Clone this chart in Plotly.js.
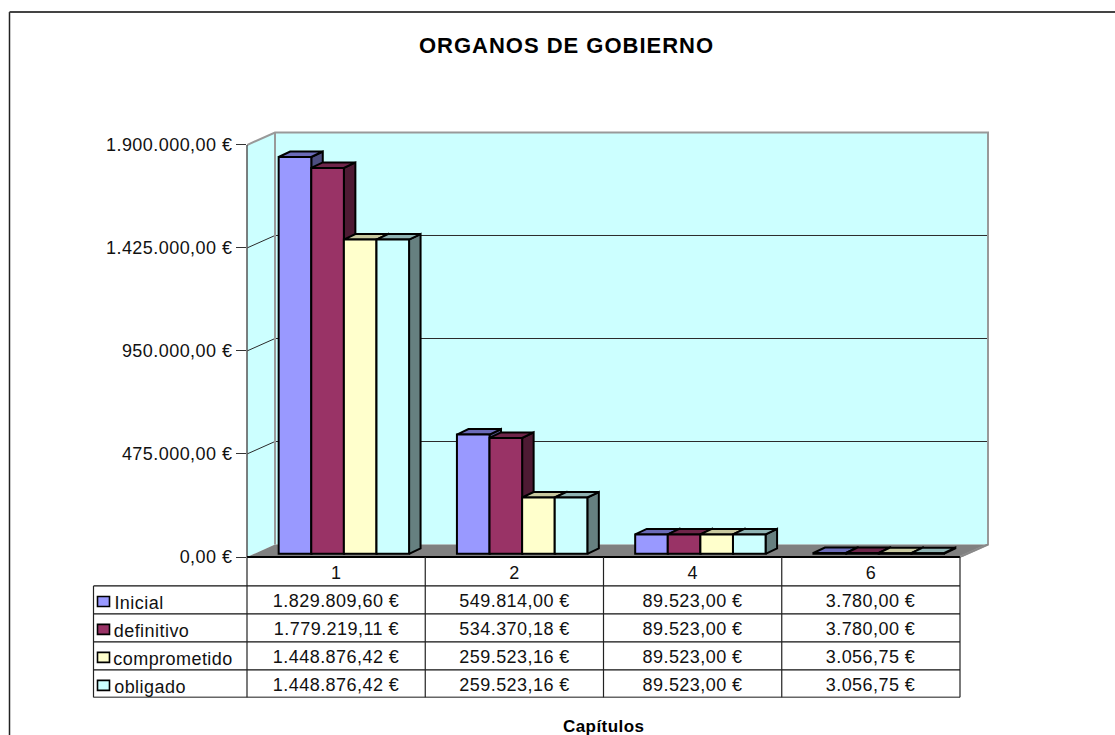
<!DOCTYPE html>
<html>
<head>
<meta charset="utf-8">
<script src="https://cdn.plot.ly/plotly-3.0.1.min.js"></script>
<style>
html,body{margin:0;padding:0;background:#fff;overflow:hidden}
#chart{width:1115px;height:735px}
.main-svg text{letter-spacing:0.45px}
.main-svg .gtitle{letter-spacing:1px}
.main-svg .axis-name text{letter-spacing:0.8px}
</style>
</head>
<body>
<div id="chart"></div>
<script>
var chartTitle = 'ORGANOS DE GOBIERNO';
var axisTitle = 'Capítulos';
var categories = ['1', '2', '4', '6'];
var seriesNames = ['Inicial', 'definitivo', 'comprometido', 'obligado'];
var inicial = [1829809.60, 549814.00, 89523.00, 3780.00];
var definitivo = [1779219.11, 534370.18, 89523.00, 3780.00];
var comprometido = [1448876.42, 259523.16, 89523.00, 3056.75];
var obligado = [1448876.42, 259523.16, 89523.00, 3056.75];
var seriesValues = [inicial, definitivo, comprometido, obligado];
var tickValues = [0, 475000, 950000, 1425000, 1900000];
var frontColors = ['#9999FF', '#993366', '#FFFFCC', '#CCFFFF'];
var sideColors = ['#4D4D80', '#4D1A33', '#808066', '#668080'];
var topColors = ['#6B6BB8', '#6E2549', '#C8C89F', '#8FB3B3'];

// Frame geometry in page pixels
var W = 1115, H = 735;
var frontL = 247, frontR = 960, frontTop = 145, frontBot = 557.5;
var plotR = 1000, plotTop = 120;
var catPx = (frontR - frontL) / categories.length;
var valPx = (frontBot - frontTop) / 1900000;
var maxVal = 1900000;

function xv(px) { return px / catPx; }          // horizontal pixels -> x units
function yv(px) { return px / valPx; }          // vertical pixels -> y units
function xp(px) { return (px - frontL) / (plotR - frontL); }   // page px -> paper
function yp(px) { return (frontBot - px) / (frontBot - plotTop); }

var wallDx = xv(28), wallDy = yv(12.5);
var barDx = xv(11.5), barDy = yv(5.5);
var baseVal = yv(3.2);
var barW = xv(32.6), groupShift = xv(7.75);
var nCat = categories.length;
var fontFamily = 'Liberation Sans, Arial, sans-serif';

function fmt(v) {
  var p = v.toFixed(2).split('.');
  return p[0].replace(/\B(?=(\d{3})+(?!\d))/g, '.') + ',' + p[1] + ' €';
}

var traces = [];
function poly(xs, ys, fill, line, width, name) {
  traces.push({type: 'scatter', mode: width ? 'lines' : 'none', x: xs, y: ys,
    fill: fill ? 'toself' : 'none', fillcolor: fill || undefined,
    line: {color: line || '#000', width: width || 0, simplify: false},
    hoverinfo: 'skip', showlegend: false, name: name});
}

// walls and floor
poly([wallDx, wallDx + nCat, wallDx + nCat, wallDx, wallDx],
     [wallDy, wallDy, maxVal + wallDy, maxVal + wallDy, wallDy], '#CCFFFF', null, 0, 'back wall');
poly([0, wallDx, wallDx, 0, 0], [0, wallDy, maxVal + wallDy, maxVal, 0], '#CCFFFF', null, 0, 'side wall');
var gx = [], gy = [];
tickValues.slice(1, -1).forEach(function (v) {
  gx.push(0, wallDx, wallDx + nCat, null);
  gy.push(v, v + wallDy, v + wallDy, null);
});
poly(gx, gy, null, '#2b2b2b', 1, 'gridlines');
poly([0, nCat, nCat + wallDx, wallDx, 0], [0, 0, wallDy, wallDy, 0], '#808080', null, 0, 'floor');
poly([0, wallDx, wallDx + nCat, wallDx + nCat, nCat, null, wallDx, wallDx],
     [maxVal, maxVal + wallDy, maxVal + wallDy, wallDy, 0, null, wallDy, maxVal + wallDy],
     null, '#999999', 2, 'wall edge');

// depth faces of the bars, painted left to right
seriesValues.forEach(function (vals, s) {
  var sx = [], sy = [], tx = [], ty = [];
  vals.forEach(function (v, c) {
    var groupL = c + 0.5 + groupShift - 2 * barW;
    var l = groupL + s * barW, r = l + barW;
    var b = baseVal, t = baseVal + v;
    sx.push(r, r + barDx, r + barDx, r, r, null);
    sy.push(b, b + barDy, t + barDy, t, b, null);
    tx.push(l, r, r + barDx, l + barDx, l, null);
    ty.push(t, t, t + barDy, t + barDy, t, null);
  });
  poly(sx, sy, sideColors[s], '#000', 2, seriesNames[s] + ' side');
  poly(tx, ty, topColors[s], '#000', 2, seriesNames[s] + ' top');
});

// front faces: real bars in an overlaid subplot so they cover the depth faces
seriesValues.forEach(function (vals, s) {
  traces.push({type: 'bar', name: seriesNames[s], yaxis: 'y2',
    x: categories.map(function (c, i) { return i + 0.5 + groupShift; }),
    y: vals, base: baseVal,
    text: vals.map(fmt), hoverinfo: 'name+text', textposition: 'none',
    marker: {color: frontColors[s], line: {color: '#000', width: 2}}, showlegend: false});
});

// page-pixel line helper
var shapes = [];
function pline(x0, y0, x1, y1, color, width) {
  shapes.push({type: 'line', xref: 'paper', yref: 'paper', x0: xp(x0), y0: yp(y0), x1: xp(x1), y1: yp(y1),
    line: {color: color, width: width}});
}
// outer frame (left and top only)
pline(9.5, 12, 9.5, 745, '#222', 1.5);
pline(9.5, 12, 1125, 12, '#444', 2);
// vertical axis line and front floor edge
pline(frontL, frontTop, frontL, frontBot, '#555', 1.5);
pline(frontL, frontBot, frontR, frontBot, '#000', 2);
pline(frontR, frontBot, frontR + 28, frontBot - 12.5, '#888', 1.5);

// data table
var rowY = [586.5, 614.5, 642.5, 670.5, 698];
var tableL = 93.5;
rowY.forEach(function (y, i) {
  var last = i === rowY.length - 1;
  pline(tableL, y, frontR, y, last ? '#666' : '#111', last ? 1.5 : 1.2);
});
pline(tableL, rowY[0], tableL, rowY[4], '#222', 1.2);
for (var c = 0; c <= nCat; c++) {
  var cx = frontL + c * catPx;
  pline(cx, frontBot, cx, rowY[4], '#222', 1.2);
}
var annotations = [];
function ptext(x, y, text, anchor) {
  annotations.push({xref: 'paper', yref: 'paper', x: xp(x), y: yp(y), text: text, showarrow: false,
    xanchor: anchor, yanchor: 'middle', font: {family: fontFamily, size: 18, color: '#111'}});
}
seriesNames.forEach(function (name, s) {
  var top = rowY[s], mid = top + 14;
  shapes.push({type: 'rect', xref: 'paper', yref: 'paper',
    x0: xp(97.5), x1: xp(109.5), y0: yp(top + 10.5), y1: yp(top + 20.5),
    fillcolor: frontColors[s], line: {color: '#000', width: 1.6}});
  ptext(114, mid + 3.5, name, 'left');
  seriesValues[s].forEach(function (v, c) {
    ptext(frontL + (c + 0.5) * catPx, mid + 1, fmt(v), 'center');
  });
});
// axis caption, centred under the front plane rather than the full plot box
annotations.push({xref: 'paper', yref: 'paper', x: xp((frontL + frontR) / 2), y: yp(727), text: '<b>' + axisTitle + '</b>',
  showarrow: false, xanchor: 'center', yanchor: 'middle', font: {family: fontFamily, size: 17, color: '#000'}});

var layout = {
  width: W, height: H,
  margin: {l: frontL, r: W - plotR, t: plotTop, b: H - frontBot, pad: 0},
  paper_bgcolor: '#fff', plot_bgcolor: '#fff',
  showlegend: false, barmode: 'group', bargap: 1 - 4 * barW, bargroupgap: 0,
  title: {text: '<b>' + chartTitle + '</b>', x: 566.5 / W, xanchor: 'center', y: 1 - 45 / H, yanchor: 'middle',
    font: {family: fontFamily, size: 22, color: '#000'}},
  xaxis: {range: [0, xv(plotR - frontL)], showgrid: false, zeroline: false, showline: false, ticks: '',
    tickmode: 'array', tickvals: categories.map(function (c, i) { return i + 0.5; }), ticktext: categories,
    tickfont: {family: fontFamily, size: 18, color: '#111'},
    ticklabelstandoff: 3},
  yaxis: {range: [0, yv(frontBot - plotTop)], showgrid: false, zeroline: false, showline: false,
    ticks: 'outside', ticklen: 10, tickwidth: 1.2, tickcolor: '#333',
    tickmode: 'array', tickvals: tickValues, ticktext: tickValues.map(fmt),
    tickfont: {family: fontFamily, size: 18, color: '#111'}},
  yaxis2: {range: [0, yv(frontBot - plotTop)], overlaying: 'y', visible: false},
  shapes: shapes, annotations: annotations
};
Plotly.newPlot('chart', traces, layout, {displayModeBar: false, responsive: false});
</script>
</body>
</html>
